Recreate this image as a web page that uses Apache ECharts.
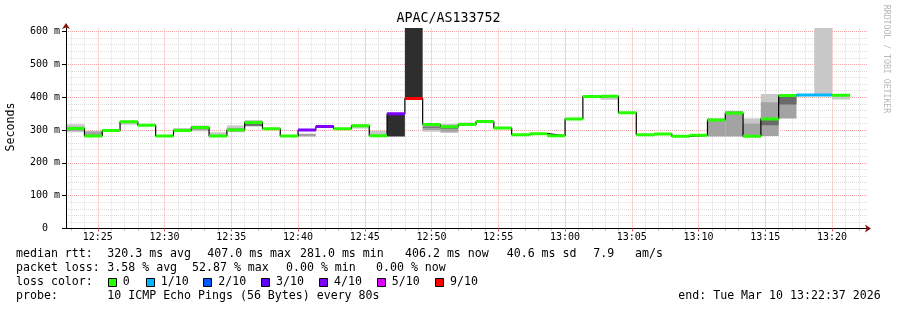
<!DOCTYPE html>
<html><head><meta charset="utf-8">
<script src="https://cdn.jsdelivr.net/npm/echarts@6/dist/echarts.min.js"></script>
<style>html,body{margin:0;padding:0;background:#fff}#c{width:897px;height:310px}</style>
</head><body><div id="c"></div>
<script>
// ---------------- data ----------------
const chartTitle = 'APAC/AS133752';
const windowStart = '12:22:37';
const windowEnd = '13:22:37';
const stepStart = '12:22:40';
const stepSeconds = 80;
const timeTickLabels = ['12:25','12:30','12:35','12:40','12:45','12:50','12:55','13:00','13:05','13:10','13:15','13:20'];
const yTickValues = [0,100,200,300,400,500,600];
const yMax = 611;

// median rtt per 80 s step (ms)
const medianMs = [305,282,299,325,315,282,299,308,282,300,323,304,282,300,311,304,313,283,350,396,
                  317,310,317,326,306,286,289,283,334,402,403,353,286,288,281,284,331,352,281,334,
                  405,407,407,406.2];
// lost pings out of 10 per step
const lossTenths = [0,0,0,0,0,0,0,0,0,0,0,0,0,4,4,0,0,0,4,9,
                    0,0,0,0,0,0,0,0,0,0,0,0,0,0,0,0,0,0,0,0,
                    0,1,1,0];
// smoke bands (ms)
const smokeLightLo = [293,null,null,316,null,null,298,296,282,293,310,null,null,null,null,null,305,283,null,null,
                      295,291,317,null,null,null,null,null,null,397,392,null,null,null,null,null,null,null,282,282,
                      null,null,407,393];
const smokeLightHi = [318,null,null,328,null,null,306,314,293,314,331,null,null,null,null,null,317,298,null,null,
                      317,319,323,null,null,null,null,null,null,404,404,null,null,null,null,null,null,null,335,410,
                      null,null,611,406];
const smokeMidLo = [297,282,null,null,null,null,null,300,null,296,313,null,null,280,null,null,null,null,null,null,
                    300,295,null,325,null,null,null,null,null,null,null,null,null,null,null,null,280,280,282,282,
                    335,null,null,null];
const smokeMidHi = [310,296,null,null,null,null,null,311,null,306,327,null,null,289,null,null,null,null,null,null,
                    313,315,null,329,null,null,null,null,null,null,null,null,null,null,null,null,335,358,320,385,
                    405,null,null,null];
const smokeDarkLo = [null,null,null,null,null,null,null,null,null,null,313,null,null,null,null,null,null,null,null,null,
                     307,304,null,null,null,null,null,null,null,null,null,null,null,null,null,null,null,null,null,315,
                     378,null,null,null];
const smokeDarkHi = [null,null,null,null,null,null,null,null,null,null,319,null,null,null,null,null,null,null,null,null,
                     310,307,null,null,null,null,null,null,null,null,null,null,null,null,null,null,null,null,null,331,
                     402,null,null,null];
const smokeBlackLo = [null,null,null,null,null,null,null,null,null,null,null,null,null,null,null,null,null,null,280,396,
                      null,null,null,null,null,null,null,null,null,null,null,null,null,null,null,null,null,null,null,null,
                      null,null,null,null];
const smokeBlackHi = [null,null,null,null,null,null,null,null,null,null,null,null,null,null,null,null,null,null,346,611,
                      null,null,null,null,null,null,null,null,null,null,null,null,null,null,null,null,null,null,null,null,
                      null,null,null,null];

const lossLegendLabels = ['0','1/10','2/10','3/10','4/10','5/10','9/10'];
const lossLegendThresholds = [0,1,2,3,4,5,9];
const rttStats = ['median rtt:','320.3 ms avg','407.0 ms max','281.0 ms min','406.2 ms now','40.6 ms sd','7.9','am/s'];
const lossStats = ['packet loss:','3.58 % avg','52.87 % max','0.00 % min','0.00 % now'];
const probeText = ['probe:','10 ICMP Echo Pings (56 Bytes) every 80s','end: Tue Mar 10 13:22:37 2026'];
const yAxisName = 'Seconds';
const watermark = 'RRDTOOL / TOBI OETIKER';

// ---------------- styles / layout ----------------
const lossColors = ['#26ff00','#00b8ff','#0059ff','#5e00ff','#7e00ff','#dd00ff','#ff0000'];
const smokeColors = ['#c8c8c8','#a3a3a3','#6a6a6a','#2e2e2e'];
const MONO = '"DejaVu Sans Mono"';
const legendFont = '11.6px ' + MONO;
const rowY = [254, 268, 282, 296];
const rttX = [16,107.3,207.3,300,405,506.7,593.3,635];
const lossX = [16,107.3,192,286,376];
const swatchX = [108.5,146.5,203.5,261.5,319.5,377.5,435.5];
const swatchLabelX = [122.7,160.7,218.3,276,334,391.7,450];
const probeX = [16,107.3,678.3];

// ---------------- helpers ----------------
const toSec = s => { const p = s.split(':').map(Number); return p[0]*3600 + p[1]*60 + (p[2]||0); };
const fmtHM = v => { const h = Math.floor(v/3600), m = Math.round((v%3600)/60); return String(h).padStart(2,'0')+':'+String(m).padStart(2,'0'); };
const xMin = toSec(windowStart), xMax = toSec(windowEnd);
const t0 = toSec(stepStart);
const stepTimes = medianMs.map((_, k) => t0 + k*stepSeconds);
const majorTicks = timeTickLabels.map(toSec);
const minuteTicks = [];
for (let v = Math.ceil(xMin/60)*60; v <= xMax; v += 60) minuteTicks.push(v);
const minorMinutes = minuteTicks.filter(v => v % 300 !== 0);
const minorMs = [];
for (let v = 20; v < yMax; v += 20) if (v % 100 !== 0) minorMs.push(v);
const lossColorOf = n => { let i = 0; lossLegendThresholds.forEach((t, j) => { if (n >= t) i = j; }); return lossColors[i]; };

const smokeData = [];
[[smokeLightLo,smokeLightHi],[smokeMidLo,smokeMidHi],[smokeDarkLo,smokeDarkHi],[smokeBlackLo,smokeBlackHi]].forEach((pair, lvl) => {
  pair[0].forEach((lo, k) => { if (lo != null) smokeData.push([stepTimes[k], stepTimes[k]+stepSeconds, lo, pair[1][k], lvl]); });
});
const medianSegData = medianMs.map((m, k) => [stepTimes[k], stepTimes[k]+stepSeconds, m, lossTenths[k]]);
const medianLine = medianMs.map((m, k) => [stepTimes[k], m]);
medianLine.push([stepTimes[stepTimes.length-1] + stepSeconds, medianMs[medianMs.length-1]]);

const minorStyle = {color: '#dcdcdc', type: [1,1], width: 1};
const majorStyle = {color: '#f3a6a6', type: [1,1], width: 1};
const gridLines = [];
minorMinutes.forEach(v => gridLines.push({xAxis: v, lineStyle: minorStyle}));
minorMs.forEach(v => gridLines.push({yAxis: v, lineStyle: minorStyle}));
majorTicks.forEach(v => gridLines.push({xAxis: v, lineStyle: majorStyle}));
yTickValues.filter(v => v > 0).forEach(v => gridLines.push({yAxis: v, lineStyle: majorStyle}));

// ---------------- graphic texts ----------------
const g = [];
const txt = (x, y, text) => g.push({type: 'text', x: x, y: y, silent: true,
  style: {text: text, font: legendFont, fill: '#000', align: 'left', verticalAlign: 'middle'}});
g.push({type: 'text', x: 448.5, y: 19, silent: true,
  style: {text: chartTitle, font: '13.3px ' + MONO, fill: '#000', align: 'center', verticalAlign: 'middle'}});
g.push({type: 'text', x: 11, y: 127, rotation: Math.PI/2, silent: true,
  style: {text: yAxisName, font: '11.6px ' + MONO, fill: '#000', align: 'center', verticalAlign: 'middle'}});
g.push({type: 'text', x: 886.5, y: 59, rotation: -Math.PI/2, silent: true,
  style: {text: watermark, font: '8.2px ' + MONO, fill: '#b8b8b8', align: 'center', verticalAlign: 'middle'}});
rttStats.forEach((s, i) => txt(rttX[i], rowY[0], s));
lossStats.forEach((s, i) => txt(lossX[i], rowY[1], s));
txt(16, rowY[2], 'loss color:');
lossLegendLabels.forEach((s, i) => {
  g.push({type: 'rect', silent: true, shape: {x: swatchX[i], y: rowY[2]-3.5, width: 8, height: 8},
          style: {fill: lossColors[i], stroke: '#000', lineWidth: 1}});
  txt(swatchLabelX[i], rowY[2], s);
});
probeText.forEach((s, i) => txt(probeX[i], rowY[3], s));

// ---------------- chart ----------------
const chart = echarts.init(document.getElementById('c'), null, {renderer: 'canvas'});
chart.setOption({
  animation: false,
  backgroundColor: '#fff',
  grid: {left: 66, right: 30, top: 28, bottom: 81.5, containLabel: false},
  xAxis: [
    {type: 'value', min: xMin, max: xMax, position: 'bottom', z: 5,
     axisLine: {show: true, onZero: false, lineStyle: {color: '#000', width: 1}},
     axisTick: {show: true, customValues: majorTicks, length: 3, lineStyle: {color: '#e06060'}},
     axisLabel: {customValues: majorTicks, formatter: v => fmtHM(v), fontFamily: MONO, fontSize: 10, color: '#000', margin: 4},
     splitLine: {show: false}},
    {type: 'value', min: xMin, max: xMax, position: 'bottom', z: 4,
     axisLine: {show: true, onZero: false, symbol: ['none','arrow'], symbolSize: [6,6], symbolOffset: [0,4], lineStyle: {color: '#8b1010', width: 1}},
     axisTick: {show: true, customValues: minorMinutes, length: 2, lineStyle: {color: '#b0b0b0'}},
     axisLabel: {show: false}, splitLine: {show: false}}
  ],
  yAxis: [
    {type: 'value', min: 0, max: yMax, position: 'left', z: 5,
     axisLine: {show: true, onZero: false, lineStyle: {color: '#000', width: 1}},
     axisTick: {show: true, customValues: yTickValues, length: 4, lineStyle: {color: '#000'}},
     axisLabel: {customValues: yTickValues, formatter: v => v === 0 ? '0  ' : v + ' m', fontFamily: MONO, fontSize: 10, color: '#000', margin: 6},
     splitLine: {show: false}},
    {type: 'value', min: 0, max: yMax, position: 'left', z: 4,
     axisLine: {show: true, onZero: false, symbol: ['none','arrow'], symbolSize: [6,6], symbolOffset: [0,5], lineStyle: {color: '#8b1010', width: 1}},
     axisTick: {show: false}, axisLabel: {show: false}, splitLine: {show: false}}
  ],
  series: [
    {type: 'line', name: 'grid', data: [], z: 0, silent: true, xAxisIndex: 0, yAxisIndex: 0,
     markLine: {z: 0, silent: true, symbol: ['none','none'], label: {show: false}, animation: false,
                emphasis: {disabled: true}, data: gridLines}},
    {type: 'custom', name: 'smoke', z: 2, silent: true, clip: true, xAxisIndex: 0, yAxisIndex: 0,
     data: smokeData,
     renderItem: (params, api) => {
       const p0 = api.coord([api.value(0), api.value(3)]);
       const p1 = api.coord([api.value(1), api.value(2)]);
       return {type: 'rect', shape: {x: p0[0], y: p0[1], width: p1[0]-p0[0], height: p1[1]-p0[1]},
               style: {fill: smokeColors[api.value(4)]}};
     }},
    {type: 'line', name: 'median', step: 'end', z: 3, silent: true, symbol: 'none', showSymbol: false,
     data: medianLine, lineStyle: {color: '#000', width: 1.2}},
    {type: 'custom', name: 'median loss', z: 4, silent: true, clip: true,
     data: medianSegData,
     renderItem: (params, api) => {
       const p0 = api.coord([api.value(0), api.value(2)]);
       const p1 = api.coord([api.value(1), api.value(2)]);
       return {type: 'rect', shape: {x: p0[0], y: p0[1]-1.5, width: p1[0]-p0[0], height: 3},
               style: {fill: lossColorOf(api.value(3))}};
     }}
  ],
  graphic: g
});
</script></body></html>
